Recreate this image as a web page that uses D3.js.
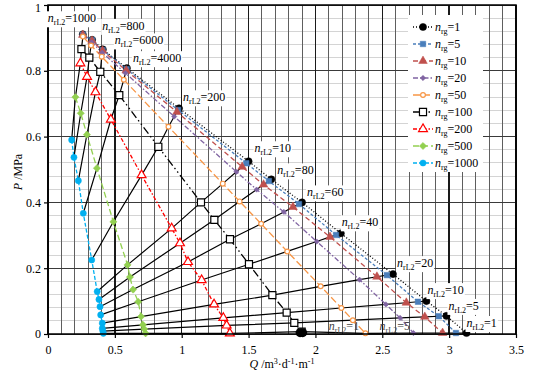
<!DOCTYPE html>
<html>
<head>
<meta charset="utf-8">
<script src="https://cdn.jsdelivr.net/npm/d3@7"></script>
<style>
  body { margin: 0; background: #fff; }
  text { font-family: "Liberation Serif", "Times New Roman", serif; }
</style>
</head>
<body>
<div id="chart"></div>
<script>
/* DATA */
// n_rg series names (legend order)
const rgNames = ["1", "5", "10", "20", "50", "100", "200", "500", "1000"];
// n_rL2 labels as printed on the chart, one per iso-line (top to bottom)
const rL2Labels = ["1000", "800", "6000", "4000", "200", "10", "80", "60", "40", "20", "10", "5", "1"];
// stray labels sitting on the x axis
const bottomLabels = ["1", "5"];
const bottomLabelQ = [2.1, 2.48];

// Q (m3/d/m) and P (MPa) of each n_rg series, one value per iso-line
const q1 = [0.26, 0.33, 0.41, 0.59, 0.98, 1.50, 1.67, 1.90, 2.19, 2.58, 2.83, 2.98, 3.13];
const p1 = [0.911, 0.894, 0.865, 0.808, 0.686, 0.525, 0.47, 0.40, 0.306, 0.182, 0.10, 0.055, 0.003];
const q5 = [0.260, 0.330, 0.409, 0.588, 0.973, 1.483, 1.652, 1.877, 2.154, 2.534, 2.767, 2.923, 3.051];
const p5 = [0.910, 0.893, 0.863, 0.805, 0.681, 0.519, 0.465, 0.395, 0.301, 0.179, 0.098, 0.054, 0.003];
const q10 = [0.260, 0.329, 0.408, 0.585, 0.964, 1.452, 1.612, 1.832, 2.109, 2.46, 2.68, 2.818, 2.951];
const p10 = [0.909, 0.891, 0.861, 0.801, 0.675, 0.508, 0.454, 0.386, 0.295, 0.174, 0.095, 0.052, 0.003];
const q20 = [0.259, 0.327, 0.405, 0.579, 0.944, 1.409, 1.56, 1.764, 2.01, 2.33, 2.527, 2.633, 2.733];
const p20 = [0.907, 0.887, 0.855, 0.793, 0.661, 0.493, 0.439, 0.371, 0.281, 0.165, 0.09, 0.049, 0.003];
const q50 = [0.261, 0.322, 0.402, 0.567, 0.901, 1.307, 1.433, 1.594, 1.789, 2.039, 2.194, 2.28, 2.374];
const p50 = [0.904, 0.877, 0.843, 0.773, 0.630, 0.457, 0.403, 0.335, 0.251, 0.145, 0.079, 0.042, 0.002];
const q100 = [0.25, 0.309, 0.391, 0.533, 0.825, 1.144, 1.244, 1.361, 1.503, 1.678, 1.785, 1.842, 1.897];
const p100 = [0.866, 0.840, 0.797, 0.726, 0.569, 0.40, 0.347, 0.288, 0.212, 0.118, 0.065, 0.034, 0.007];
const q200 = [0.242, 0.292, 0.355, 0.47, 0.70, 0.925, 0.987, 1.047, 1.149, 1.242, 1.311, 1.336, 1.36];
const p200 = [0.823, 0.782, 0.735, 0.652, 0.483, 0.321, 0.276, 0.219, 0.164, 0.09, 0.049, 0.026, 0.002];
const q500 = [0.205, 0.245, 0.291, 0.366, 0.489, 0.595, 0.613, 0.636, 0.675, 0.696, 0.71, 0.72, 0.73];
const p500 = [0.72, 0.671, 0.606, 0.504, 0.341, 0.21, 0.173, 0.135, 0.098, 0.053, 0.028, 0.015, 0.002];
const q1000 = [0.177, 0.194, 0.227, 0.264, 0.327, 0.368, 0.381, 0.389, 0.394, 0.406, 0.406, 0.41, 0.414];
const p1000 = [0.59, 0.537, 0.466, 0.367, 0.225, 0.129, 0.105, 0.083, 0.058, 0.033, 0.017, 0.009, 0.002];

// the big black dot at the foot of the n_rg=100 curve
const footQ = [1.885, 1.905];
const footP = [0.004, 0.004];

const xTicks = [0, 0.5, 1, 1.5, 2, 2.5, 3, 3.5];
const yTicks = [0, 0.2, 0.4, 0.6, 0.8, 1];

/* STYLES */
const styles = [
  { color: "#000000", dash: "1,2",          symbol: "circle",   size: 40, fill: true },
  { color: "#4a7ebb", dash: "3,2",          symbol: "square",   size: 30, fill: true },
  { color: "#c0504d", dash: "5,3",          symbol: "triangle", size: 32, fill: true },
  { color: "#8064a2", dash: "5,2,1.5,2",    symbol: "diamond",  size: 14, fill: true },
  { color: "#f79646", dash: "7,3",          symbol: "circle",   size: 18, fill: false },
  { color: "#000000", dash: "8,3,1.5,3,1.5,3", symbol: "square", size: 50, fill: false },
  { color: "#ff0000", dash: "4,2,1.5,2",    symbol: "triangle", size: 34, fill: false },
  { color: "#92d050", dash: "6,3",          symbol: "diamond",  size: 26, fill: true },
  { color: "#00b0f0", dash: "4,2",          symbol: "circle",   size: 30, fill: true }
];
// label offsets from the n_rg=1 point, px
const labelNudge = [[-35, -16], [10, -14], [12, -9], [6, -10], [4, -11], [6, -13], [6, -9],
                    [5, -10], [1, -11], [4, -11], [1, -11], [2, -10], [0, -10]];

const qs = [q1, q5, q10, q20, q50, q100, q200, q500, q1000];
const ps = [p1, p5, p10, p20, p50, p100, p200, p500, p1000];
const series = rgNames.map((name, k) => ({
  name, style: styles[k],
  points: qs[k].map((q, i) => ({ q, p: ps[k][i] }))
}));

/* LAYOUT */
const width = 533, height = 373;
const margin = { top: 5, right: 17, bottom: 39, left: 48 };

const xScale = d3.scaleLinear().domain([0, 3.5]).range([margin.left, width - margin.right]);
const yScale = d3.scaleLinear().domain([0, 1]).range([height - margin.bottom, margin.top]);

const svg = d3.select("#chart").append("svg")
  .attr("width", width).attr("height", height);

// GRID
const grid = svg.append("g").attr("shape-rendering", "crispEdges");
grid.selectAll("line.hmin")
  .data(d3.range(0, 1.0001, 0.04))
  .join("line").attr("class", "hmin")
  .attr("x1", xScale(0)).attr("x2", xScale(3.5))
  .attr("y1", d => yScale(d)).attr("y2", d => yScale(d))
  .attr("stroke", "#d4d4d4");
grid.selectAll("line.vmin")
  .data(d3.range(0, 3.5001, 0.1))
  .join("line").attr("class", "vmin")
  .attr("y1", yScale(0)).attr("y2", yScale(1))
  .attr("x1", d => xScale(d)).attr("x2", d => xScale(d))
  .attr("stroke", "#5e5e5e");
grid.selectAll("line.hmaj")
  .data(yTicks)
  .join("line").attr("class", "hmaj")
  .attr("x1", xScale(0)).attr("x2", xScale(3.5))
  .attr("y1", d => yScale(d)).attr("y2", d => yScale(d))
  .attr("stroke", "#3a3a3a");
grid.selectAll("line.vmaj")
  .data(xTicks)
  .join("line").attr("class", "vmaj")
  .attr("y1", yScale(0)).attr("y2", yScale(1))
  .attr("x1", d => xScale(d)).attr("x2", d => xScale(d))
  .attr("stroke", "#1a1a1a").attr("stroke-width", 1.5);

// SERIES LINES
const line = d3.line().x(d => xScale(d.q)).y(d => yScale(d.p));
svg.selectAll("path.series")
  .data(series)
  .join("path").attr("class", "series")
  .attr("fill", "none")
  .attr("stroke", d => d.style.color)
  .attr("stroke-width", 1.3)
  .attr("stroke-dasharray", d => d.style.dash)
  .attr("d", d => line(d.points));

// ISO-LINES (same n_rL2 across all n_rg)
const isoLines = rL2Labels.map((lab, i) => series.map(s => s.points[i]));
svg.selectAll("path.iso")
  .data(isoLines)
  .join("path").attr("class", "iso")
  .attr("fill", "none")
  .attr("stroke", "#000")
  .attr("stroke-width", 1.2)
  .attr("d", line);

// MARKERS
function symbolPath(st) {
  const type = st.symbol === "circle" ? d3.symbolCircle
    : st.symbol === "triangle" ? d3.symbolTriangle
    : d3.symbolSquare;
  return d3.symbol().type(type).size(st.size)();
}
series.forEach(s => {
  svg.append("g").selectAll("path")
    .data(s.points)
    .join("path")
    .attr("d", symbolPath(s.style))
    .attr("transform", d => `translate(${xScale(d.q)},${yScale(d.p)})` + (s.style.symbol === "diamond" ? " rotate(45)" : ""))
    .attr("fill", s.style.fill ? s.style.color : "#fff")
    .attr("stroke", s.style.color)
    .attr("stroke-width", s.style.fill ? 0.5 : 1.2);
});
svg.selectAll("circle.foot")
  .data(footQ.map((q, i) => ({ q, p: footP[i] })))
  .join("circle").attr("class", "foot")
  .attr("cx", d => xScale(d.q)).attr("cy", d => yScale(d.p))
  .attr("r", 4.5).attr("fill", "#000");

// FRAME
svg.append("rect")
  .attr("x", xScale(0)).attr("y", yScale(1))
  .attr("width", xScale(3.5) - xScale(0)).attr("height", yScale(0) - yScale(1))
  .attr("fill", "none").attr("stroke", "#000").attr("stroke-width", 1.5);

// LABELS
function nLabel(g, sub, value) {
  const t = g.append("text").attr("font-size", 12).attr("fill", "#000");
  t.append("tspan").attr("font-style", "italic").text("n");
  t.append("tspan").attr("font-size", 8).attr("dy", 3).text(sub);
  t.append("tspan").attr("dy", -3).text("=" + value);
  return t;
}
rL2Labels.forEach((lab, i) => {
  const g = svg.append("g")
    .attr("transform", `translate(${xScale(q1[i]) + labelNudge[i][0]},${yScale(p1[i]) + labelNudge[i][1] + 4})`);
  const t = nLabel(g, "rL2", lab);
  const b = t.node().getBBox();
  g.insert("rect", "text")
    .attr("x", b.x - 1).attr("y", b.y).attr("width", b.width + 2).attr("height", b.height)
    .attr("fill", "#fff");
});
bottomLabels.forEach((lab, i) => {
  const g = svg.append("g")
    .attr("transform", `translate(${xScale(bottomLabelQ[i])},${yScale(0) - 4})`);
  nLabel(g, "rL2", lab).attr("fill", "#444");
});

// LEGEND
const legend = svg.append("g").attr("transform", "translate(408,15)");
legend.append("rect").attr("width", 75).attr("height", 157).attr("fill", "#fff");
const items = legend.selectAll("g.item")
  .data(series)
  .join("g").attr("class", "item")
  .attr("transform", (d, i) => `translate(0,${12 + i * 17})`);
items.append("line")
  .attr("x1", 5).attr("x2", 25)
  .attr("stroke", d => d.style.color)
  .attr("stroke-width", 1.3)
  .attr("stroke-dasharray", d => d.style.dash);
items.append("path")
  .attr("d", d => symbolPath(d.style))
  .attr("transform", d => "translate(15,0)" + (d.style.symbol === "diamond" ? " rotate(45)" : ""))
  .attr("fill", d => d.style.fill ? d.style.color : "#fff")
  .attr("stroke", d => d.style.color)
  .attr("stroke-width", d => d.style.fill ? 0.5 : 1.2);
items.each(function (d) {
  const g = d3.select(this).append("g").attr("transform", "translate(27,4)");
  nLabel(g, "rg", d.name);
});

// AXES
const xAxis = d3.axisBottom(xScale).tickValues(xTicks).tickSize(4).tickFormat(d3.format("~g"));
const yAxis = d3.axisLeft(yScale).tickValues(yTicks).tickSize(4).tickFormat(d3.format("~g"));
const xAxisGroup = svg.append("g")
  .attr("transform", `translate(0,${yScale(0)})`)
  .call(xAxis);
const yAxisGroup = svg.append("g")
  .attr("transform", `translate(${xScale(0)},0)`)
  .call(yAxis);
[xAxisGroup, yAxisGroup].forEach(g => {
  g.attr("font-family", null);
  g.select(".domain").remove();
  g.selectAll("text").attr("font-size", 12).attr("fill", "#000")
    .style("font-family", "'Liberation Serif', serif");
  g.selectAll("line").attr("stroke", "#000").attr("stroke-width", 1.2);
});
xAxisGroup.selectAll("text").attr("dy", "1.05em");
// keep the top "1" inside the picture
yAxisGroup.selectAll("text").filter(d => d === 1).attr("dy", "0.55em");

// AXIS TITLES
const xt = svg.append("text")
  .attr("x", 282).attr("y", 368)
  .attr("text-anchor", "middle").attr("font-size", 12);
xt.append("tspan").attr("font-style", "italic").text("Q");
xt.append("tspan").text(" /m");
xt.append("tspan").attr("font-size", 8).attr("dy", -4).text("3");
xt.append("tspan").attr("dy", 4).text("·d");
xt.append("tspan").attr("font-size", 8).attr("dy", -4).text("-1");
xt.append("tspan").attr("dy", 4).text("·m");
xt.append("tspan").attr("font-size", 8).attr("dy", -4).text("-1");

const yt = svg.append("text")
  .attr("transform", "translate(22,172) rotate(-90)")
  .attr("text-anchor", "middle").attr("font-size", 12);
yt.append("tspan").attr("font-style", "italic").text("P");
yt.append("tspan").text(" /MPa");
</script>
</body>
</html>
